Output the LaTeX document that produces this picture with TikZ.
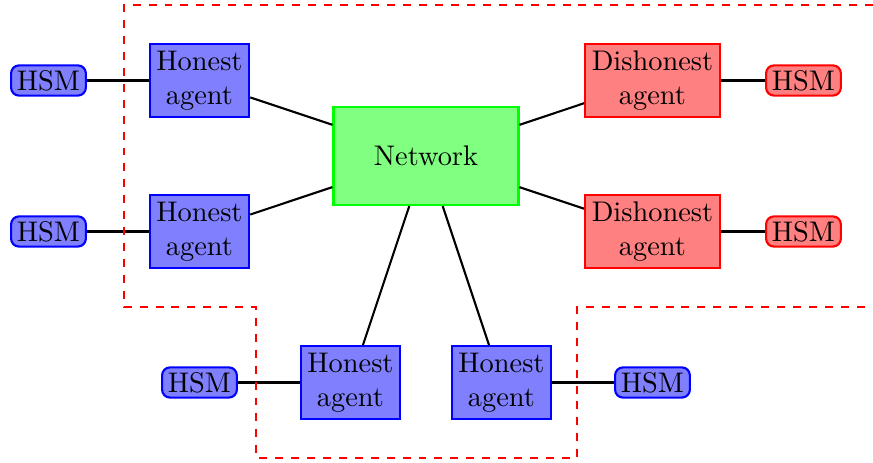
\documentclass[tikz,border=0pt]{standalone}
\usetikzlibrary{positioning}

\begin{document}
\begin{tikzpicture}[
        every node/.style={font=\fontsize{10.7pt}{12.8pt}\selectfont},
        honest/.style={rectangle,draw=blue,fill=blue!50,thick,align=center,inner sep=2.5pt},
        dishonest/.style={rectangle,draw=red,fill=red!50,thick,align=center,inner sep=2.5pt},
        hsmhonest/.style={rectangle,rounded corners=3pt,draw=blue,fill=blue!50,thick,inner xsep=2.2pt,inner ysep=1.8pt},
        hsmdishonest/.style={rectangle,rounded corners=3pt,draw=red,fill=red!50,thick,inner xsep=2.2pt,inner ysep=1.8pt},
        net/.style={rectangle,draw=green,fill=green!50,thick,minimum width=2.45cm,minimum height=1.3cm},
        link/.style={thick}
    ]
        \useasboundingbox (-0.642,-5.066) rectangle (10.921,1.066);

        % Network in the middle
        \node[net] (N) at (5, -1) {Network};

        % Honest agents and their HSMs
        \node[honest] (H1) at (2, 0) {Honest\\agent};
        \node[honest] (H2) at (2, -2) {Honest\\agent};
        \node[honest] (H3) at (4, -4) {Honest\\agent};
        \node[honest] (H4) at (6, -4) {Honest\\agent};
        \node[hsmhonest] (S1) at (0, 0) {HSM};
        \node[hsmhonest] (S2) at (0, -2) {HSM};
        \node[hsmhonest] (S3) at (2, -4) {HSM};
        \node[hsmhonest] (S4) at (8, -4) {HSM};

        % Dishonest agents and their HSMs
        \node[dishonest] (D1) at (8, 0) {Dishonest\\agent};
        \node[dishonest] (D2) at (8, -2) {Dishonest\\agent};
        \node[hsmdishonest] (S5) at (10, 0) {HSM};
        \node[hsmdishonest] (S6) at (10, -2) {HSM};

        % Links
        \draw[link] (S1) -- (H1);
        \draw[link] (S2) -- (H2);
        \draw[link] (S3) -- (H3);
        \draw[link] (H4) -- (S4);
        \draw[link] (D1) -- (S5);
        \draw[link] (D2) -- (S6);
        \draw[link] (H1) -- (N);
        \draw[link] (H2) -- (N);
        \draw[link] (N) -- (H3);
        \draw[link] (N) -- (H4);
        \draw[link] (N) -- (D1);
        \draw[link] (N) -- (D2);

        % Boundary
        \draw[red,thick,dashed] (10.921, 1) -- (1, 1) -- (1, -3) -- (2.75, -3) -- (2.75, -5)
            -- (7, -5) -- (7, -3) -- (10.921, -3);
    \end{tikzpicture}
\end{document}
